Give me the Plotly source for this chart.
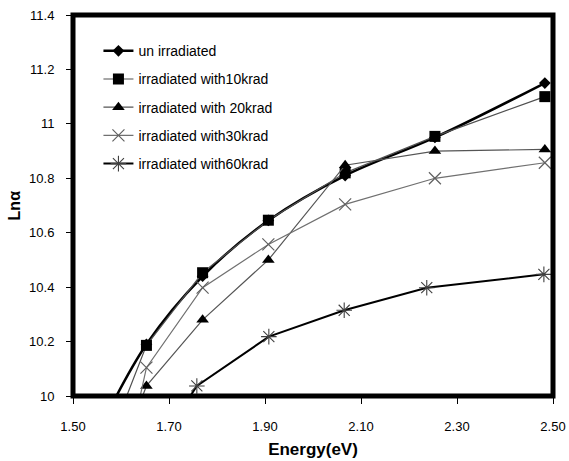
import plotly.graph_objects as go

# ---- data ----
energy_main = [1.55, 1.653, 1.770, 1.907, 2.067, 2.254, 2.483]
ln_unirr = [9.86, 10.19, 10.44, 10.645, 10.81, 10.95, 11.15]
ln_10k = [9.72, 10.186, 10.453, 10.646, 10.82, 10.954, 11.10]
ln_20k = [9.56, 10.037, 10.28, 10.50, 10.848, 10.90, 10.906]
ln_30k = [9.28, 10.104, 10.398, 10.557, 10.704, 10.80, 10.857]

energy_60k = [1.653, 1.758, 1.908, 2.065, 2.237, 2.481]
ln_60k = [9.75, 10.037, 10.218, 10.315, 10.398, 10.447]

names = ["un irradiated", "irradiated with10krad", "irradiated with 20krad",
         "irradiated with30krad", "irradiated with60krad"]

x_ticks = [1.5, 1.7, 1.9, 2.1, 2.3, 2.5]
y_ticks = [10, 10.2, 10.4, 10.6, 10.8, 11, 11.2, 11.4]

FONT = "Liberation Sans, Arial, sans-serif"

fig = go.Figure()

fig.add_trace(go.Scatter(
    x=energy_main, y=ln_unirr, name=names[0], legendgroup="g0",
    mode="lines+markers",
    line=dict(color="black", width=2.5, shape="spline", smoothing=1),
    marker=dict(symbol="diamond", size=9, color="black")))

fig.add_trace(go.Scatter(
    x=energy_main, y=ln_10k, name=names[1], legendgroup="g1",
    mode="lines+markers",
    line=dict(color="#505050", width=1.2),
    marker=dict(symbol="square", size=11, color="black")))

fig.add_trace(go.Scatter(
    x=energy_main, y=ln_20k, name=names[2], legendgroup="g2",
    mode="lines+markers",
    line=dict(color="#555555", width=1.2),
    marker=dict(symbol="triangle-up", size=11, color="black")))

fig.add_trace(go.Scatter(
    x=energy_main, y=ln_30k, name=names[3], legendgroup="g3",
    mode="lines+markers",
    line=dict(color="#707070", width=1.2),
    marker=dict(symbol="x-thin-open", size=12, color="#606060",
                line=dict(width=1.2, color="#606060"))))

fig.add_trace(go.Scatter(
    x=energy_60k, y=ln_60k, name=names[4], legendgroup="g4",
    mode="lines+markers",
    line=dict(color="black", width=2),
    marker=dict(symbol="asterisk-open", size=13, color="#404040",
                line=dict(width=1.1, color="#404040"))))

fig.update_layout(
    width=569, height=461,
    margin=dict(l=73, r=16, t=15, b=65, autoexpand=False),
    paper_bgcolor="white", plot_bgcolor="white",
    font=dict(family=FONT, color="black", size=13),
    showlegend=True,
    legend=dict(x=0.053, y=0.947, xanchor="left", yanchor="top",
                bgcolor="rgba(0,0,0,0)", borderwidth=0,
                font=dict(size=14, family=FONT), tracegroupgap=7),
    shapes=[dict(type="rect", xref="paper", yref="paper", x0=0, y0=0, x1=1, y1=1,
                 line=dict(color="black", width=5), layer="above")],
    annotations=[dict(text="<b>Lnα</b>", xref="paper", yref="paper",
                      x=-0.121, y=0.5, xanchor="center", yanchor="middle",
                      textangle=-90, showarrow=False,
                      font=dict(size=16, family=FONT, color="black"))],
)

fig.update_xaxes(
    range=[1.5, 2.5], tickvals=x_ticks, tickformat=".2f",
    showgrid=False, zeroline=False, showline=False, automargin=False,
    ticks="outside", ticklen=7, tickwidth=1, tickcolor="black",
    ticklabelstandoff=11,
    title=dict(text="<b>Energy(eV)</b>", font=dict(size=17, family=FONT), standoff=10),
)
fig.update_yaxes(
    range=[10, 11.4], tickvals=y_ticks,
    showgrid=False, zeroline=False, showline=False, automargin=False,
    ticks="outside", ticklen=6, tickwidth=1, tickcolor="black",
    ticklabelstandoff=9,
)

fig.write_html("out.html")
